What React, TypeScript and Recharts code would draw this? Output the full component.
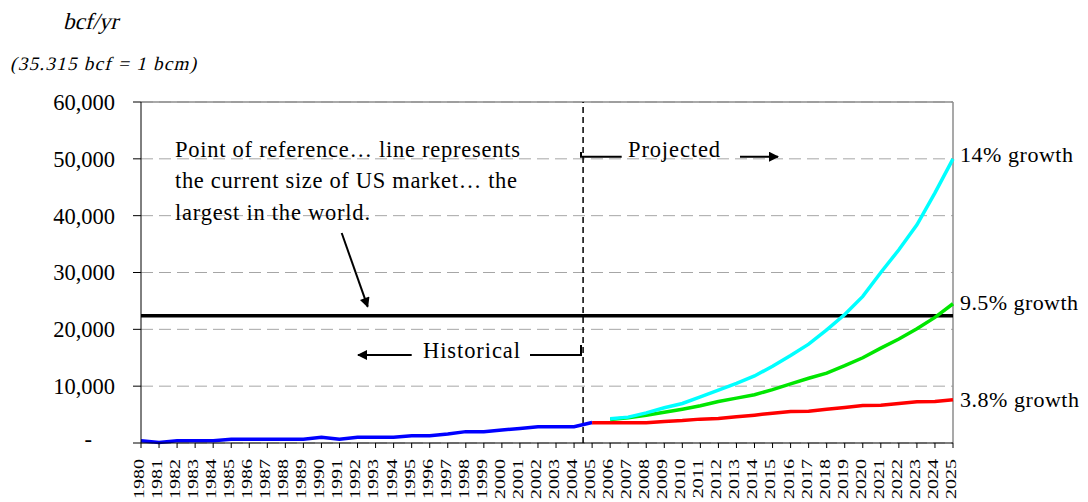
import { CartesianGrid, Line, LineChart, ReferenceLine, XAxis, YAxis } from 'recharts';

const YEARS = [
  1980, 1981, 1982, 1983, 1984, 1985, 1986, 1987, 1988, 1989, 1990, 1991, 1992, 1993, 1994, 1995,
  1996, 1997, 1998, 1999, 2000, 2001, 2002, 2003, 2004, 2005, 2006, 2007, 2008, 2009, 2010, 2011,
  2012, 2013, 2014, 2015, 2016, 2017, 2018, 2019, 2020, 2021, 2022, 2023, 2024, 2025,
];
const Y_TICKS = [0, 10000, 20000, 30000, 40000, 50000, 60000];

// 1980-2005
const HISTORICAL = [
  400, 100, 400, 400, 400, 640, 640, 640, 640, 640, 1000, 640, 1000, 1000, 1000, 1280, 1280, 1600,
  2000, 2000, 2270, 2560, 2850, 2850, 2850, 3600,
];
// 2005-2025
const GROWTH_3_8 = [
  3550, 3550, 3550, 3550, 3800, 3950, 4200, 4300, 4600, 4900, 5250, 5550, 5600, 5950, 6250, 6600,
  6650, 6950, 7250, 7300, 7600,
];
// 2006-2025
const GROWTH_9_5 = [
  4150, 4450, 4900, 5400, 5950, 6550, 7300, 7900, 8500, 9400, 10400, 11400, 12300, 13600, 15000,
  16700, 18300, 20100, 22100, 24500,
];
// 2006-2025
const GROWTH_14 = [
  4250, 4550, 5300, 6200, 6950, 8100, 9300, 10500, 11800, 13500, 15400, 17400, 19900, 22600, 25800,
  30000, 34000, 38400, 44000, 50000,
];
const US_MARKET = 22400;

const data = YEARS.map((year, i) => ({
  year,
  hist: i < HISTORICAL.length ? HISTORICAL[i] : null,
  low: i >= 25 ? GROWTH_3_8[i - 25] : null,
  mid: i >= 26 ? GROWTH_9_5[i - 26] : null,
  high: i >= 26 ? GROWTH_14[i - 26] : null,
}));

const FONT = '"Liberation Serif", "Times New Roman", serif';

function YearTick({ x, y, payload }: any) {
  return (
    <g transform={`translate(${x - 2},${y + 9})`}>
      <text transform="rotate(-90) scale(1,0.7)" textAnchor="end" dy="0.35em" fontSize={20} fontFamily={FONT} fill="#000">
        {payload.value}
      </text>
    </g>
  );
}

function ValueTick({ x, y, payload }: any) {
  const v = payload.value as number;
  return (
    <text x={v === 0 ? x - 23 : x} y={v === 0 ? y - 4 : y} dy="0.35em" textAnchor="end" fontSize={22.5} fontFamily={FONT} fill="#000">
      {v === 0 ? '-' : v.toLocaleString('en-US')}
    </text>
  );
}

function endLabel(text: string, dy: number, width: number) {
  return (props: any) => {
    if (props.index !== YEARS.length - 1) return null;
    return (
      <text x={props.x + 7} y={props.y + dy} fontSize={22} fontFamily={FONT} fill="#000" textLength={width} lengthAdjust="spacing">
        {text}
      </text>
    );
  };
}

export default function App() {
  return (
    <div style={{ position: 'relative', width: 1080, height: 494, fontFamily: FONT }}>
      <LineChart width={1080} height={494} data={data} margin={{ top: 94, right: 135, bottom: 0, left: 0 }}>
        <CartesianGrid horizontal vertical={false} stroke="#a6a6a6" strokeDasharray="12 6" />
        <XAxis
          dataKey="year"
          type="number"
          domain={[1980, 2025]}
          ticks={YEARS}
          interval={0}
          height={59}
          tickSize={5}
          stroke="#000"
          tick={<YearTick />}
        />
        <YAxis
          domain={[0, 60000]}
          ticks={Y_TICKS}
          width={133}
          tickSize={8}
          tickMargin={18}
          stroke="#000"
          tick={<ValueTick />}
        />
        <ReferenceLine y={60000} stroke="#8c8c8c" strokeWidth={1.5} />
        <ReferenceLine x={2025} stroke="#8c8c8c" strokeWidth={1.5} />
        <ReferenceLine x={2004.5} stroke="#000" strokeWidth={1.5} strokeDasharray="6 4" />
        <ReferenceLine y={US_MARKET} stroke="#000" strokeWidth={3.5} />
        <Line dataKey="hist" stroke="#0000ff" strokeWidth={3.5} dot={false} type="linear" isAnimationActive={false} />
        <Line dataKey="low" stroke="#ff0000" strokeWidth={3.5} dot={false} type="linear" isAnimationActive={false} label={endLabel('3.8% growth', 7, 119)} />
        <Line dataKey="mid" stroke="#00e600" strokeWidth={3.5} dot={false} type="linear" isAnimationActive={false} label={endLabel('9.5% growth', 6, 118)} />
        <Line dataKey="high" stroke="#00ffff" strokeWidth={3.5} dot={false} type="linear" isAnimationActive={false} label={endLabel('14% growth', 3, 113)} />
      </LineChart>
      <svg width={1080} height={494} style={{ position: 'absolute', left: 0, top: 0, pointerEvents: 'none' }}>
        <defs>
          <marker id="ah" viewBox="0 0 10 10" refX="9" refY="5" markerWidth="7" markerHeight="5" orient="auto-start-reverse">
            <path d="M0,0 L10,5 L0,10 z" fill="#000" />
          </marker>
        </defs>
        <g fontFamily={FONT} fill="#000">
          <g transform="translate(55,21) skewX(-14)">
            <text x={0} y={0} fontSize={23} textLength={55} lengthAdjust="spacing">bcf/yr</text>
          </g>
          <g transform="translate(2,62) skewX(-14)">
            <text x={0} y={0} fontSize={19} textLength={186} lengthAdjust="spacing">(35.315 bcf = 1 bcm)</text>
          </g>
          <text x={167} y={149} fontSize={22.5} textLength={345} lengthAdjust="spacing">Point of reference… line represents</text>
          <text x={167} y={180} fontSize={22.5} textLength={342} lengthAdjust="spacing">the current size of US market… the</text>
          <text x={167} y={212} fontSize={22.5} textLength={195} lengthAdjust="spacing">largest in the world.</text>
          <text x={415} y={350} fontSize={22.5} textLength={97} lengthAdjust="spacing">Historical</text>
          <text x={620} y={149} fontSize={22.5} textLength={92} lengthAdjust="spacing">Projected</text>
        </g>
        <g stroke="#000" strokeWidth={2} fill="none">
          <line x1={333.7} y1={225} x2={359.7} y2={298.7} markerEnd="url(#ah)" />
          <line x1={403.7} y1={347} x2={350} y2={347} markerEnd="url(#ah)" />
          <polyline points="522,347 573,347 573,337" />
          <polyline points="573,144 573,148.7 613.7,148.7" />
          <line x1={732} y1={148.7} x2={770} y2={148.7} markerEnd="url(#ah)" />
        </g>
      </svg>
    </div>
  );
}
